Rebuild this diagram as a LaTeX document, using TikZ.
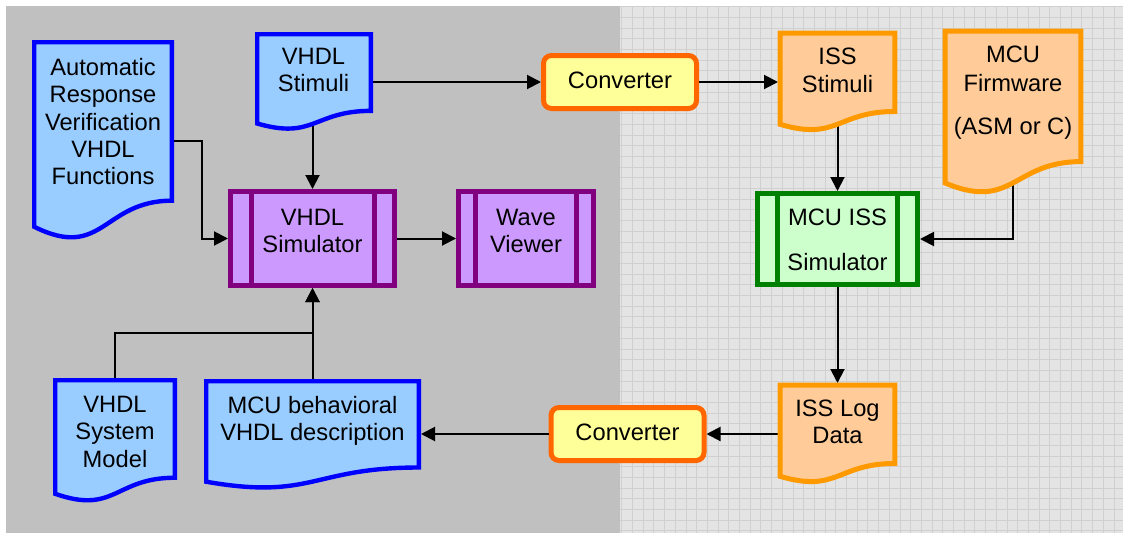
\documentclass[tikz,border=0pt]{standalone}
\usepackage{fontspec}
\setmainfont{Liberation Sans}
\usetikzlibrary{arrows.meta,calc}
\definecolor{bgray}{HTML}{C0C0C0}
\definecolor{gridbg}{HTML}{E4E4E4}
\definecolor{gridln}{HTML}{D0D0D0}
\definecolor{bluefill}{HTML}{99CCFF}
\definecolor{blueline}{HTML}{0000FF}
\definecolor{orfill}{HTML}{FFCC99}
\definecolor{orline}{HTML}{FF9900}
\definecolor{cvfill}{HTML}{FFFF99}
\definecolor{cvline}{HTML}{FF6600}
\definecolor{pufill}{HTML}{CC99FF}
\definecolor{puline}{HTML}{800080}
\definecolor{grfill}{HTML}{CCFFCC}
\definecolor{grline}{HTML}{008000}
% document shape: style, x0, y0, w, h (outer measurements)
\newcommand\docpath[5]{%
  \filldraw[#1] ({#2+2.2},{#3+2.2}) -- ({#2+#4-2.2},{#3+2.2})
    -- ({#2+#4-2.2},{#3+2.2+0.802*(#5-4.4)})
    .. controls ({#2+#4/2},{#3+2.2+0.802*(#5-4.4)}) and ({#2+#4/2},{#3+2.2+1.1075*(#5-4.4)})
    .. ({#2+2.2},{#3+2.2+0.934*(#5-4.4)}) -- cycle;}
% predefined process shape: style, x0, y0, w, h (outer)
\newcommand\procpath[5]{%
  \filldraw[#1] ({#2+2.5},{#3+2.5}) rectangle ({#2+#4-2.5},{#3+#5-2.5});
  \draw[#1] ({#2+2.5+(#4-5)/8},{#3+2.5}) -- ({#2+2.5+(#4-5)/8},{#3+#5-2.5});
  \draw[#1] ({#2+#4-2.5-(#4-5)/8},{#3+2.5}) -- ({#2+#4-2.5-(#4-5)/8},{#3+#5-2.5});}
\begin{document}
\begin{tikzpicture}[x=1pt,y=-1pt,
  anc/.style={inner sep=0pt,outer sep=0pt,draw=none},
  lbl/.style={font=\fontsize{23.7}{27.4}\selectfont, align=center, inner sep=0pt, anchor=north},
  conn/.style={line width=2pt, -{Triangle[length=14pt,width=14pt]}},
  bluedoc/.style={fill=bluefill, draw=blueline, line width=4.4pt},
  ordoc/.style={fill=orfill, draw=orline, line width=5pt},
  puproc/.style={fill=pufill, draw=puline, line width=5pt},
  grproc/.style={fill=grfill, draw=grline, line width=5pt},
  conv/.style={fill=cvfill, draw=cvline, line width=5pt, rounded corners=8pt,
    inner sep=0pt, outer sep=2.5pt, font=\fontsize{23.7}{27.4}\selectfont,
    text height=17pt, text depth=5pt, minimum width=153pt, minimum height=53pt}]
\useasboundingbox (0,0) rectangle (1123,533);
\fill[white] (0,0) rectangle (1123,533);
% backgrounds
\begin{scope}
  \clip (620,6) rectangle (1123,533);
  \fill[gridbg] (620,6) rectangle (1123,533);
  \foreach \i in {0,...,47} \draw[gridln, line width=0.7pt] ({621.7+10.7*\i},6) -- ({621.7+10.7*\i},533);
  \foreach \j in {0,...,49} \draw[gridln, line width=0.7pt] (620,{6.5+10.7*\j}) -- (1123,{6.5+10.7*\j});
\end{scope}
\fill[bgray] (6,6) rectangle (620,533);
% anchor nodes (outer extents)
\node[anc, minimum width=142pt, minimum height=202pt] (auto) at (103,141) {};
\node[anc, minimum width=118pt, minimum height=100pt] (vstim) at (314,82) {};
\node[anc, minimum width=119pt, minimum height=102pt] (istim) at (837.5,82) {};
\node[anc, minimum width=140pt, minimum height=167pt] (fw) at (1013,112.5) {};
\node[anc, minimum width=119pt, minimum height=102pt] (logd) at (837.5,434) {};
\node[anc, minimum width=124pt, minimum height=126pt] (sysm) at (115,441) {};
\node[anc, minimum width=217pt, minimum height=112pt] (behav) at (312.5,435) {};
\node[anc, minimum width=169pt, minimum height=99pt] (sim) at (312.5,238.5) {};
\node[anc, minimum width=140pt, minimum height=99pt] (wave) at (526,238.5) {};
\node[anc, minimum width=165pt, minimum height=96pt] (iss) at (837.5,239) {};
\node[conv] (conv1) at (620,82) {Converter};
\node[conv] (conv2) at (627.5,434) {Converter};
\coordinate (j) at ($(sim.south)+(0,45)$);
% connectors
\draw[conn] (auto.east) -- ++(28,0) |- (sim.west);
\draw[conn] (sim.north |- vstim.center) -- (sim.north);
\draw[conn] (vstim.center |- conv1.west) -- (conv1.west);
\draw[conn] (conv1.east) -- (conv1.east -| istim.west);
\draw[conn] (iss.north |- istim.center) -- (iss.north);
\draw[conn] (fw.center) |- (iss.east);
\draw[conn] (iss.south) -- (iss.south |- logd.north);
\draw[conn] (logd.center) -- (logd.center -| conv2.east);
\draw[conn] (conv2.west) -- (conv2.west -| behav.east);
\draw[conn] (sysm.center) |- (j) -- (sim.south);
\draw[conn] (sim.south |- behav.center) -- (sim.south);
\draw[conn] (sim.east) -- (wave.west);
% shapes
\docpath{bluedoc}{32}{40}{142}{202}
\docpath{bluedoc}{255}{32}{118}{100}
\docpath{ordoc}{778}{31}{119}{102}
\docpath{ordoc}{943}{29}{140}{167}
\docpath{ordoc}{778}{383}{119}{102}
\docpath{bluedoc}{53}{378}{124}{126}
\docpath{bluedoc}{204}{379}{217}{112}
\procpath{puproc}{228}{189}{169}{99}
\procpath{puproc}{456}{189}{140}{99}
\procpath{grproc}{755}{191}{165}{96}
% texts
\node[lbl] (autot) at (103,58) {Automatic\\Response\\Verification\\VHDL\\Functions};
\node[lbl] (vstimt) at (313.5,48) {VHDL\\Stimuli};
\node[lbl] (istimt) at (837.5,48) {ISS\\Stimuli};
\node[lbl] (fwt) at (1013,46) {MCU\\[1.6pt]Firmware\\[15.6pt](ASM or C)};
\node[lbl] (simt) at (312.5,208.5) {VHDL\\Simulator};
\node[lbl] (wavet) at (526,208.5) {Wave\\Viewer};
\node[lbl] (isst) at (837.5,208.5) {MCU ISS\\[17.6pt]Simulator};
\node[lbl] (logdt) at (837.5,399.7) {ISS Log\\Data};
\node[lbl] (sysmt) at (115,395.7) {VHDL\\System\\Model};
\node[lbl] (behavt) at (312.5,395.7) {MCU behavioral\\VHDL description};
\end{tikzpicture}
\end{document}
